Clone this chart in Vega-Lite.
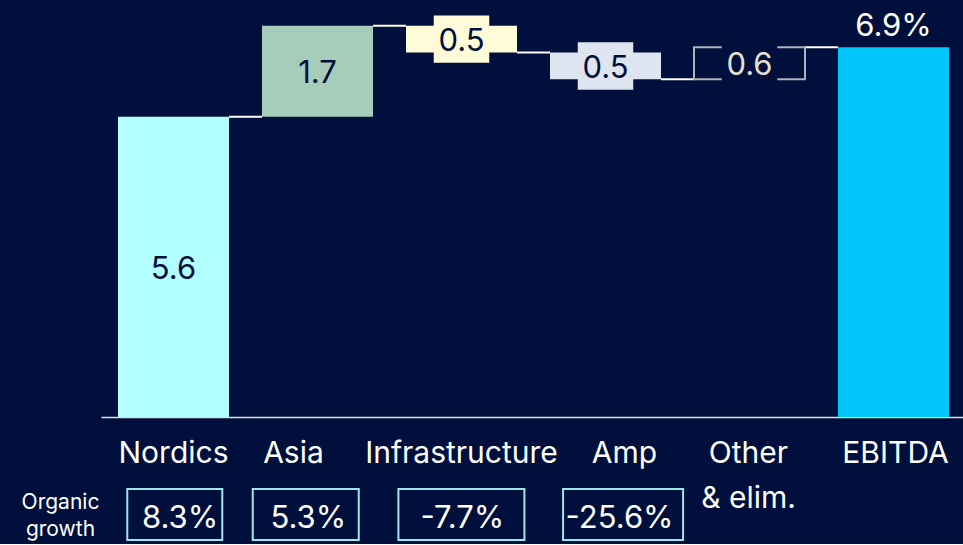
{
  "$schema": "https://vega.github.io/schema/vega-lite/v6.json",
  "background": "#000f3b",
  "padding": {"left": 21, "top": 0, "right": 0, "bottom": 0},
  "bounds": "flush",
  "spacing": 72,
  "config": {"font": "Inter", "view": {"stroke": null}},
  "datasets": {
    "wf": [
      {"cat": "Nordics", "start": 0, "end": 5.6, "label": "5.6", "next": "Asia", "growth": "8.3%", "row": "Organic growth"},
      {"cat": "Asia", "start": 5.6, "end": 7.3, "label": "1.7", "next": "Infrastructure", "growth": "5.3%", "row": "Organic growth"},
      {"cat": "Infrastructure", "start": 7.3, "end": 6.8, "label": "0.5", "next": "Amp", "growth": "-7.7%", "row": "Organic growth"},
      {"cat": "Amp", "start": 6.8, "end": 6.3, "label": "0.5", "next": "Other & elim.", "growth": "-25.6%", "row": "Organic growth"},
      {"cat": "Other & elim.", "start": 6.3, "end": 6.9, "label": "0.6", "next": "EBITDA", "growth": null, "row": null},
      {"cat": "EBITDA", "start": 0, "end": 6.9, "label": "6.9%", "next": null, "growth": null, "row": null}
    ]
  },
  "vconcat": [
    {
      "width": 865,
      "height": 417,
      "data": {"name": "wf"},
      "transform": [{"calculate": "(datum.start + datum.end) / 2", "as": "mid"}],
      "encoding": {
        "x": {
          "field": "cat",
          "type": "nominal",
          "scale": {"domain": ["Nordics", "Asia", "Infrastructure", "Amp", "Other & elim.", "EBITDA"], "paddingInner": 0.229, "paddingOuter": 0.118},
          "axis": {
            "title": null,
            "domainColor": "#dfe0e8",
            "domainWidth": 1.5,
            "ticks": false,
            "tickSize": 0,
            "labelPadding": 21,
            "labelFontSize": 30,
            "labelColor": "#ffffff",
            "labelAngle": 0,
            "labelLimit": 0,
            "labelLineHeight": 45,
            "labelOverlap": false,
            "labelFlush": false,
            "labelExpr": "datum.value == 'Other & elim.' ? ['Other', '& elim.'] : datum.value",
            "labelOffset": {"expr": "datum.value == 'Asia' ? -24 : datum.value == 'Amp' ? 19 : datum.value == 'EBITDA' ? 2 : datum.value == 'Other & elim.' ? -1 : 0"}
          }
        }
      },
      "layer": [
        {
          "transform": [{"filter": "datum.next != null"}],
          "mark": {"type": "rule", "color": "#ffffff", "strokeWidth": 2},
          "encoding": {
            "x": {
              "field": "cat",
              "type": "nominal",
              "bandPosition": 1,
              "axis": {
                "title": null,
                "domainColor": "#dfe0e8",
                "domainWidth": 1.5,
                "ticks": false,
                "tickSize": 0,
                "labelPadding": 21,
                "labelFontSize": 30,
                "labelColor": "#ffffff",
                "labelAngle": 0,
                "labelLimit": 0,
                "labelLineHeight": 45,
                "labelOverlap": false,
                "labelFlush": false,
                "labelExpr": "datum.value == 'Other & elim.' ? ['Other', '& elim.'] : datum.value",
                "labelOffset": {"expr": "datum.value == 'Asia' ? -24 : datum.value == 'Amp' ? 19 : datum.value == 'EBITDA' ? 2 : datum.value == 'Other & elim.' ? -1 : 0"}
              }
            },
            "x2": {"field": "next", "bandPosition": 0},
            "y": {"field": "end", "type": "quantitative", "scale": {"domain": [0, 7.78], "nice": false}, "axis": null}
          }
        },
        {
          "mark": {"type": "bar"},
          "encoding": {
            "y": {"field": "start", "type": "quantitative", "scale": {"domain": [0, 7.78], "nice": false}, "axis": null},
            "y2": {"field": "end"},
            "color": {
              "field": "cat",
              "type": "nominal",
              "scale": {"domain": ["Nordics", "Asia", "Infrastructure", "Amp", "Other & elim.", "EBITDA"], "range": ["#b2ffff", "#a6cdb9", "#fffbd8", "#dfe5f0", "#000f3b", "#00c6fb"]},
              "legend": null
            }
          }
        },
        {
          "transform": [{"filter": "datum.cat == 'Other & elim.'"}],
          "mark": {"type": "bar", "fillOpacity": 0, "stroke": "#b0b2bf", "strokeWidth": 2},
          "encoding": {
            "y": {"field": "start", "type": "quantitative", "axis": null},
            "y2": {"field": "end"}
          }
        },
        {
          "transform": [{"filter": "datum.cat == 'Infrastructure' || datum.cat == 'Amp' || datum.cat == 'Other & elim.'"}],
          "mark": {"type": "point", "shape": "M-1,-0.855H1V0.855H-1Z", "filled": true, "opacity": 1, "size": 3080, "strokeWidth": 0},
          "encoding": {
            "y": {"field": "mid", "type": "quantitative", "axis": null},
            "color": {"field": "cat", "type": "nominal", "legend": null}
          }
        },
        {
          "transform": [{"filter": "datum.cat != 'EBITDA'"}],
          "mark": {"type": "text", "fontSize": 31, "baseline": "middle", "dy": 3},
          "encoding": {
            "text": {"field": "label"},
            "y": {"field": "mid", "type": "quantitative", "axis": null},
            "color": {"condition": {"test": "datum.cat == 'Other & elim.'", "value": "#e8e0d2"}, "value": "#000f3b"}
          }
        },
        {
          "transform": [{"filter": "datum.cat == 'EBITDA'"}],
          "mark": {"type": "text", "fontSize": 31, "baseline": "middle", "dy": -20, "color": "#ffffff"},
          "encoding": {
            "text": {"field": "label"},
            "y": {"field": "end", "type": "quantitative", "axis": null}
          }
        }
      ]
    },
    {
      "width": 865,
      "height": 51,
      "data": {"name": "wf"},
      "transform": [{"filter": "datum.growth != null"}],
      "encoding": {
        "x": {
          "field": "cat",
          "type": "nominal",
          "scale": {"domain": ["Nordics", "Asia", "Infrastructure", "Amp", "Other & elim.", "EBITDA"], "paddingInner": 0.229, "paddingOuter": 0.118},
          "axis": null
        },
        "y": {
          "field": "row",
          "type": "nominal",
          "axis": {
            "title": null,
            "domain": false,
            "ticks": false,
            "tickSize": 0,
            "labelPadding": 41,
            "labelAlign": "center",
            "labelBaseline": "middle",
            "labelOffset": -12,
            "labelFontSize": 21,
            "labelColor": "#ffffff",
            "labelLineHeight": 27,
            "labelExpr": "split(datum.value, ' ')"
          }
        }
      },
      "layer": [
        {
          "mark": {"type": "point", "filled": false, "size": 10000, "stroke": "#9fe6ea", "strokeWidth": 2, "opacity": 1},
          "encoding": {
            "shape": {
              "field": "cat",
              "type": "nominal",
              "scale": {
                "domain": ["Nordics", "Asia", "Infrastructure", "Amp"],
                "range": ["M-0.916,-0.51H0.984V0.51H-0.916Z", "M-1.29,-0.51H0.83V0.51H-1.29Z", "M-1.26,-0.51H1.26V0.51H-1.26Z", "M-0.85,-0.51H1.55V0.51H-0.85Z"]
              },
              "legend": null
            }
          }
        },
        {
          "mark": {"type": "text", "fontSize": 31, "baseline": "middle", "dy": 4, "color": "#ffffff",
            "dx": {"expr": "datum.cat == 'Nordics' ? 7 : datum.cat == 'Asia' ? -9 : datum.cat == 'Amp' ? 14 : 1"}},
          "encoding": {
            "text": {"field": "growth"}
          }
        }
      ]
    }
  ]
}
